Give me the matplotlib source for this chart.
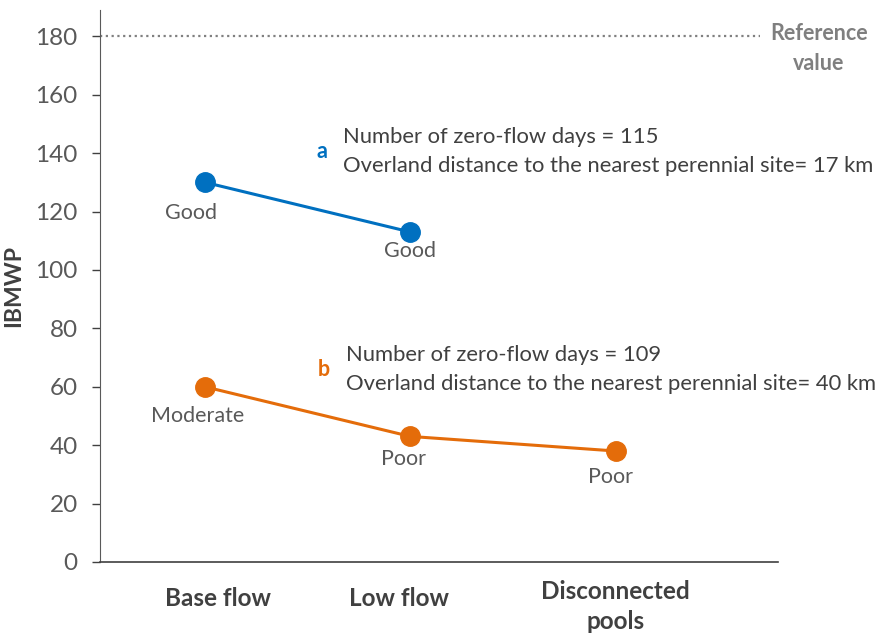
import matplotlib.pyplot as plt

plt.rcParams['font.family'] = ['Lato', 'DejaVu Sans']

# Data
stages = ['Base flow', 'Low flow', 'Disconnected\npools']
site_a = [130, 113]
site_b = [60, 43, 38]
labels_a = ['Good', 'Good']
labels_b = ['Moderate', 'Poor', 'Poor']
reference = 180
info_a = 'Number of zero-flow days = 115\nOverland distance to the nearest perennial site= 17 km'
info_b = 'Number of zero-flow days = 109\nOverland distance to the nearest perennial site= 40 km'

blue = '#0070C0'
orange = '#E46C0A'
grey = '#595959'
dark = '#404040'

fig = plt.figure(figsize=(8.78, 6.37), dpi=100)
ax = fig.add_axes([100 / 878, 75 / 637, 678 / 878, 552 / 637])

x_a = list(range(len(site_a)))
x_b = list(range(len(site_b)))
ax.plot(x_a, site_a, color=blue, lw=2.2, marker='o', ms=14, zorder=3)
ax.plot(x_b, site_b, color=orange, lw=2.2, marker='o', ms=14, zorder=3)

# point labels
offs_a = [(-10, -22), (0, -14)]
offs_b = [(-5, -21), (-5, -16), (-4, -19)]
for x, y, t, o in zip(x_a, site_a, labels_a, offs_a):
    ax.annotate(t, (x, y), xytext=o, textcoords='offset points',
                ha='center', va='center', fontsize=15.5, color=grey)
for x, y, t, o in zip(x_b, site_b, labels_b, offs_b):
    ax.annotate(t, (x, y), xytext=o, textcoords='offset points',
                ha='center', va='center', fontsize=15.5, color=grey)

# reference line
ax.plot([-0.51, 2.70], [reference, reference], color='#808080', lw=1.6,
        ls=(0, (1, 1.6)), zorder=2)
ax.text(2.99, 175.8, 'Reference\nvalue', ha='center', va='center',
        fontsize=15.5, fontweight='bold', color='#7F7F7F', linespacing=1.5)

# site info
ax.text(0.57, 140.6, 'a', color=blue, fontsize=15.5, fontweight='bold',
        ha='center', va='center')
ax.text(0.672, 140.6, info_a, color=dark, fontsize=15.8, va='center', linespacing=1.6)
ax.text(0.579, 65.9, 'b', color=orange, fontsize=15.5, fontweight='bold',
        ha='center', va='center')
ax.text(0.686, 65.9, info_b, color=dark, fontsize=15.8, va='center', linespacing=1.6)

ax.set_xlim(-0.51, 2.79)
ax.set_ylim(0, 189)
ax.set_yticks(range(0, 181, 20))
ax.set_xticks(range(len(stages)))
ax.set_xticklabels([])
ax.tick_params(axis='x', length=0)

# category labels below the axis
xshift = [13, -11, 0]
for i, (s, dx) in enumerate(zip(stages, xshift)):
    ax.annotate(s, (i, 0), xycoords=('data', 'axes fraction'),
                xytext=(dx, -25 if '\n' not in s else -18), textcoords='offset pixels',
                ha='center', va='top', fontsize=17.5, fontweight='bold',
                color=dark, linespacing=1.35)

ax.tick_params(axis='y', labelsize=17.5, labelcolor=grey, color=dark,
               length=6, width=1, pad=10)
ax.set_ylabel('IBMWP', fontsize=16.5, fontweight='bold', color=dark, labelpad=8)

for s in ['top', 'right']:
    ax.spines[s].set_visible(False)
ax.spines['left'].set_color(grey)
ax.spines['bottom'].set_color(dark)
ax.spines['bottom'].set_linewidth(1.2)

fig.savefig('out.png', dpi=100)
